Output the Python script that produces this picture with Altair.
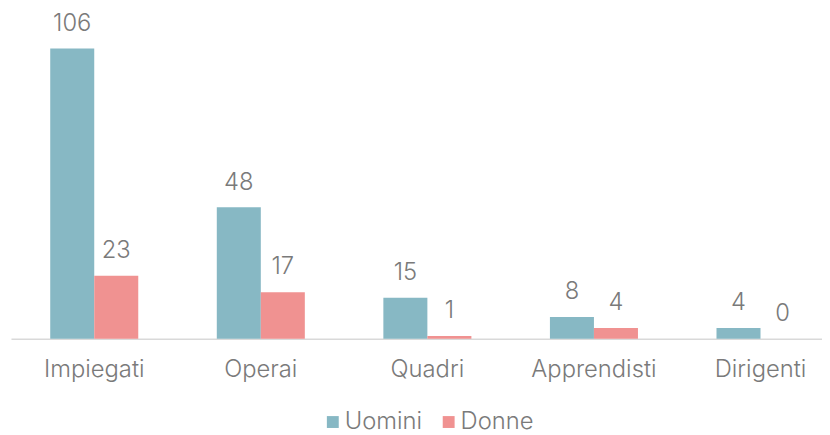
import altair as alt
import pandas as pd

categories = ["Impiegati", "Operai", "Quadri", "Apprendisti", "Dirigenti"]
uomini = [106, 48, 15, 8, 4]
donne = [23, 17, 1, 4, 0]
series = ["Uomini", "Donne"]
colors = ["#87B8C4", "#F09291"]

rows = []
for i, c in enumerate(categories):
    rows.append({"cat": c, "serie": "Uomini", "val": uomini[i]})
    rows.append({"cat": c, "serie": "Donne", "val": donne[i]})
df = pd.DataFrame(rows)

FONT = "Inter"
GREY = "#7A7A7A"
FS = 24

x = alt.X("cat:N", sort=categories, title=None,
          scale=alt.Scale(range=[0, 841], paddingInner=0.4715, paddingOuter=0.2357),
          axis=alt.Axis(labelAngle=0, labelFont=FONT, labelFontSize=FS, labelColor=GREY,
                        labelFontWeight=300,
                        labelPadding=19, ticks=False, domainColor="#D9D9D9", domainWidth=1.5,
                        grid=False))
xo = alt.XOffset("serie:N", sort=series, scale=alt.Scale(paddingInner=0, paddingOuter=0))
y = alt.Y("val:Q", scale=alt.Scale(domain=[0, 120]), axis=None)

bars = alt.Chart(df).mark_bar().encode(
    x=x, xOffset=xo, y=y,
    color=alt.Color("serie:N", sort=series,
                    scale=alt.Scale(domain=series, range=colors),
                    legend=alt.Legend(title=None, orient="none", legendX=313, legendY=404,
                                      direction="horizontal", symbolType="square",
                                      symbolSize=144, symbolStrokeWidth=0,
                                      labelFont=FONT, labelFontSize=FS, labelColor=GREY,
                                      labelFontWeight=300,
                                      labelOffset=0, columnPadding=14)),
)

labels = alt.Chart(df).mark_text(baseline="alphabetic", dy=-18, font=FONT, fontSize=FS,
                                  fontWeight=300, color=GREY).encode(
    x=x, xOffset=xo, y=y, text=alt.Text("val:Q"))

chart = (bars + labels).properties(
    width=819, height=332,
    autosize=alt.AutoSizeParams(type="none"),
    padding={"left": 3, "top": 0, "right": 0, "bottom": 95},
).configure_view(stroke=None)

chart.save("out.html", embed_options={"renderer": "svg", "actions": False})

with open("out.html", encoding="utf-8") as f:
    html = f.read()
html = html.replace("<head>", "<head><style>html,body{overflow:hidden}</style>", 1)
with open("out.html", "w", encoding="utf-8") as f:
    f.write(html)
